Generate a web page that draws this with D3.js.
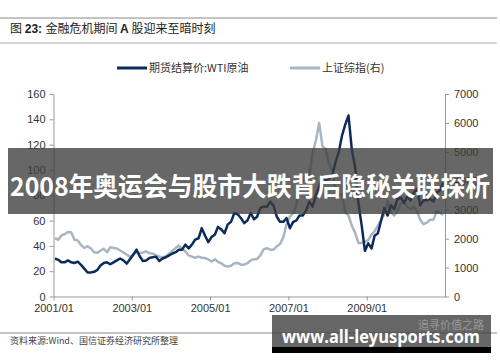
<!DOCTYPE html>
<html lang="zh">
<head>
<meta charset="UTF-8"/>
<title>金融危机期间 A 股迎来至暗时刻</title>
<script src="https://cdn.jsdelivr.net/npm/d3@7"></script>
<style>
  body { margin: 0; background: #fff; }
  svg { display: block; }
</style>
</head>
<body>
<script>
var w = 500;
var h = 362;

// monthly points, 2001/01 .. 2010/12
var startYear = 2001;

// WTI settlement price (left axis)
var wti = [
  30, 29, 27, 27, 28.5, 27, 26.5, 27.5, 25, 22, 19, 19,
  19.5, 21, 24.5, 26.5, 27, 25.5, 27, 28.5, 30, 28.5, 26, 29.5,
  33, 37, 32, 28, 28.5, 30.5, 31, 31.5, 28, 30, 31, 32.5,
  34, 35, 37, 37, 41, 38, 41, 45, 46, 54, 48, 43,
  47, 49, 55, 53, 50, 57, 59, 66, 65, 62, 58, 60,
  66, 61, 63, 70, 71, 71, 75, 72, 63, 59, 59, 62,
  54, 59, 60, 64, 64, 68, 75, 71, 80, 87, 95, 92,
  93, 96, 106, 114, 127, 136, 143, 116, 102, 74, 56, 36,
  42, 38, 48, 50, 60, 70, 64, 72, 69, 77, 78, 74,
  79, 76, 82, 85, 72, 76, 76, 77, 75, 82, 84, 90
];

// Shanghai Composite (right axis)
var shIndex = [
  2020, 1960, 2110, 2150, 2230, 2220, 1960, 1940, 1780, 1680, 1740, 1660,
  1530, 1510, 1590, 1650, 1530, 1700, 1680, 1660, 1590, 1520, 1450, 1370,
  1460, 1520, 1500, 1520, 1560, 1500, 1480, 1430, 1380, 1350, 1390, 1480,
  1580, 1680, 1760, 1640, 1560, 1420, 1380, 1340, 1380, 1340, 1330, 1280,
  1210, 1290, 1200, 1150, 1060, 1040, 1060, 1150, 1160, 1100, 1100, 1150,
  1250, 1290, 1300, 1420, 1630, 1670, 1620, 1620, 1730, 1820, 2050, 2500,
  2760, 2880, 3150, 3700, 4100, 3950, 4200, 4950, 5400, 6000, 5200, 5100,
  4600, 4350, 3700, 3500, 3550, 2900, 2800, 2450, 2200, 1850, 1850, 1900,
  1950, 2150, 2250, 2450, 2650, 2850, 3300, 2900, 2800, 2950, 3200, 3250,
  3100, 3020, 3100, 2950, 2650, 2500, 2550, 2650, 2650, 2950, 2900, 2820
];

var xTickYears = [2001, 2003, 2005, 2007, 2009];
var leftTicks = [0, 20, 40, 60, 80, 100, 120, 140, 160];
var rightTicks = [0, 1000, 2000, 3000, 4000, 5000, 6000, 7000];

var navy = "#0c2b5c";
var grayBlue = "#a8b6c2";
var tickFont = "'Liberation Sans', Arial, sans-serif";
var cjkFont = "'Noto Sans CJK SC', 'Noto Sans', sans-serif";

function monthDate(i) { return new Date(startYear, i, 15); }

var xScale = d3.scaleTime()
  .domain([new Date(2001, 0, 1), new Date(2011, 0, 1)])
  .range([53.5, 445]);

var yLeft = d3.scaleLinear().domain([0, 160]).range([296.5, 94]);
var yRight = d3.scaleLinear().domain([0, 7000]).range([296.5, 94]);

var svg = d3.select("body").append("svg")
  .attr("width", w)
  .attr("height", h);

// header rules and title
svg.append("line").attr("x1", 0).attr("x2", 497).attr("y1", 18).attr("y2", 18)
  .attr("stroke", "#888").attr("stroke-width", 1);
svg.append("line").attr("x1", 0).attr("x2", 497).attr("y1", 43).attr("y2", 43)
  .attr("stroke", "#aaa").attr("stroke-width", 1);

var title = svg.append("text").attr("x", 10).attr("y", 33)
  .attr("font-size", "12px").attr("fill", "#222").attr("font-family", cjkFont);
title.append("tspan").text("图 ");
title.append("tspan").attr("font-family", tickFont).attr("font-weight", "bold").text("23: ");
title.append("tspan").text("金融危机期间 ");
title.append("tspan").attr("font-family", tickFont).attr("font-weight", "bold").text("A");
title.append("tspan").text(" 股迎来至暗时刻");

// legend
var legend = [
  { label: "期货结算价:WTI原油", color: navy, x: 117 },
  { label: "上证综指(右)", color: grayBlue, x: 290 }
];
legend.forEach(function(d) {
  svg.append("line").attr("x1", d.x).attr("x2", d.x + 30).attr("y1", 68).attr("y2", 68)
    .attr("stroke", d.color).attr("stroke-width", 3);
  svg.append("text").attr("x", d.x + 32).attr("y", 72)
    .attr("font-size", "11px").attr("font-family", cjkFont).attr("fill", "#333")
    .text(d.label);
});

// axes
function styleAxis(g) {
  g.select(".domain").attr("stroke", "#999");
  g.selectAll(".tick line").attr("stroke", "#999");
  g.selectAll(".tick text").attr("fill", "#333")
    .attr("font-family", tickFont).attr("font-size", "11px");
}

svg.append("g")
  .attr("transform", "translate(53.5,0)")
  .call(d3.axisLeft(yLeft).tickValues(leftTicks).tickSize(4).tickPadding(4).tickSizeOuter(0)
    .tickFormat(d3.format("d")))
  .call(styleAxis);

svg.append("g")
  .attr("transform", "translate(445,0)")
  .call(d3.axisRight(yRight).tickValues(rightTicks).tickSize(4).tickPadding(5).tickSizeOuter(0)
    .tickFormat(d3.format("d")))
  .call(styleAxis);

var xTicks = xTickYears.map(function(y) { return new Date(y, 0, 1); });
svg.append("g")
  .attr("transform", "translate(0,296.5)")
  .call(d3.axisBottom(xScale).tickValues(xTicks).tickSize(4).tickPadding(4).tickSizeOuter(0)
    .tickFormat(d3.timeFormat("%Y/%m")))
  .call(styleAxis);

// series
var lineLeft = d3.line()
  .x(function(d, i) { return xScale(monthDate(i)); })
  .y(function(d) { return yLeft(d); });
var lineRight = d3.line()
  .x(function(d, i) { return xScale(monthDate(i)); })
  .y(function(d) { return yRight(d); });

svg.append("path").datum(shIndex)
  .attr("d", lineRight).attr("fill", "none")
  .attr("stroke", grayBlue).attr("stroke-width", 2.5).attr("stroke-linejoin", "round");

svg.append("path").datum(wti)
  .attr("d", lineLeft).attr("fill", "none")
  .attr("stroke", navy).attr("stroke-width", 2.5).attr("stroke-linejoin", "round");

// banner overlay
svg.append("rect").attr("x", 8).attr("y", 148).attr("width", 485).attr("height", 66)
  .attr("fill", "#3c3c3c").attr("opacity", 0.78);
svg.append("text").attr("x", 250).attr("y", 196)
  .attr("text-anchor", "middle")
  .attr("font-family", cjkFont).attr("font-weight", "bold").attr("font-size", "26px")
  .attr("fill", "#fff")
  .attr("textLength", 480).attr("lengthAdjust", "spacingAndGlyphs")
  .text("2008年奥运会与股市大跌背后隐秘关联探析");

// footer
svg.append("line").attr("x1", 0).attr("x2", 497).attr("y1", 333).attr("y2", 333)
  .attr("stroke", "#888").attr("stroke-width", 1);
svg.append("text").attr("x", 10).attr("y", 344)
  .attr("font-size", "9px").attr("font-family", cjkFont).attr("fill", "#444")
  .text("资料来源:Wind、国信证券经济研究所整理");

// watermark box
svg.append("rect").attr("x", 272).attr("y", 315).attr("width", 219).attr("height", 32)
  .attr("fill", "#444").attr("opacity", 0.82);
svg.append("rect").attr("x", 272).attr("y", 347).attr("width", 219).attr("height", 6)
  .attr("fill", "#000");
svg.append("text").attr("x", 484).attr("y", 329)
  .attr("text-anchor", "end")
  .attr("font-size", "11px").attr("font-family", cjkFont).attr("fill", "#bbb").attr("opacity", 0.6)
  .text("追寻价值之路");
svg.append("text").attr("x", 381).attr("y", 343)
  .attr("text-anchor", "middle")
  .attr("font-family", "'Open Sans', 'DejaVu Sans', sans-serif").attr("font-weight", "bold")
  .attr("font-size", "17px").attr("fill", "#fff")
  .attr("textLength", 198).attr("lengthAdjust", "spacingAndGlyphs")
  .text("www.all-leyusports.com");
</script>
</body>
</html>
